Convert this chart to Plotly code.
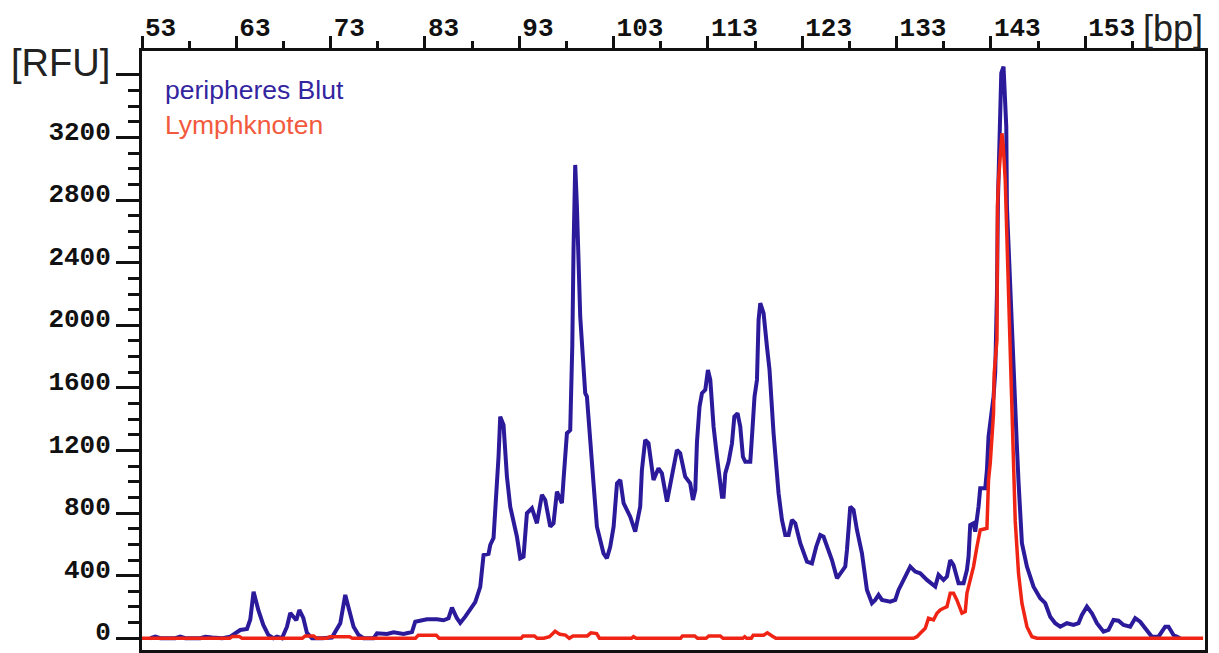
import plotly.graph_objects as go

# ---------------- data ----------------
blue_bp = [53.88, 54.41, 54.94, 56.53, 57.06, 57.59, 59.18, 59.71, 60.45, 61.51,
           62.36, 63.07, 63.42, 64.13, 64.48, 64.83, 65.33, 65.86, 66.39, 66.92,
           67.31, 67.84, 68.37, 68.72, 69.04, 69.36, 69.68, 70.10, 70.49, 71.02,
           72.08, 73.14, 73.49, 74.02, 74.55, 74.90, 75.43, 75.96, 76.49, 77.55,
           77.91, 78.97, 79.67, 80.73, 81.62, 81.97, 83.21, 84.27, 84.97, 85.50,
           85.86, 86.39, 86.74, 87.27, 87.80, 88.33, 88.86, 89.04, 89.21, 89.74,
           89.92, 90.27, 90.45, 90.80, 90.98, 91.33, 91.69, 92.04, 92.75, 93.10,
           93.45, 93.63, 93.81, 94.34, 94.87, 95.40, 95.75, 96.28, 96.63, 96.99,
           97.52, 97.69, 98.05, 98.40, 98.54, 98.62, 98.75, 98.93, 99.11, 99.46,
           99.99, 100.17, 100.87, 101.23, 101.93, 102.29, 102.64, 103.00, 103.36, 103.71,
           104.06, 104.41, 104.76, 105.29, 105.64, 105.82, 106.00, 106.35, 106.70, 107.23,
           107.76, 108.12, 108.66, 109.01, 109.36, 109.71, 110.06, 110.59, 111.12, 111.41,
           111.66, 111.84, 112.11, 112.37, 112.72, 113.00, 113.25, 113.60, 113.96, 114.49,
           114.66, 114.84, 115.19, 115.55, 115.80, 116.14, 116.43, 116.71, 116.96, 117.49,
           117.67, 117.94, 118.20, 118.37, 118.55, 118.90, 119.26, 119.53, 119.96, 120.49,
           120.85, 121.20, 121.55, 121.91, 122.26, 122.79, 123.50, 124.03, 124.48, 124.91,
           125.26, 125.62, 126.15, 126.68, 127.03, 127.56, 127.74, 128.09, 128.44, 128.80,
           129.33, 129.86, 130.39, 130.74, 131.09, 131.45, 132.33, 132.86, 133.21, 134.10,
           134.45, 134.98, 135.51, 136.22, 137.10, 137.45, 137.98, 138.34, 138.69, 139.04,
           139.57, 140.10, 140.46, 140.63, 140.81, 141.16, 141.34, 141.69, 141.87, 142.40,
           142.58, 142.75, 143.11, 143.28, 143.46, 143.64, 143.75, 143.99, 144.10, 144.34,
           144.52, 144.63, 144.70, 145.05, 145.34, 145.58, 145.76, 145.93, 146.11, 146.29,
           146.82, 147.52, 148.23, 148.76, 149.29, 149.82, 150.35, 151.06, 151.76, 152.29,
           152.65, 153.18, 153.71, 154.24, 154.94, 155.47, 156.00, 156.53, 157.06, 157.77,
           158.30, 158.83, 159.36, 160.07, 160.77, 161.48, 161.83, 162.36, 163.07]
blue_rfu = [0, 10, 0, 0, 10, 0, 0, 10, 5, 0,
            10, 42, 53, 60, 120, 298, 181, 85, 21, 0,
            10, 0, 74, 161, 140, 115, 181, 130, 34, 0,
            0, 5, 42, 96, 277, 202, 74, 21, 0, 0,
            32, 28, 38, 28, 40, 106, 121, 121, 115, 128,
            196, 128, 98, 138, 180, 231, 328, 426, 532, 540,
            596, 641, 801, 1160, 1416, 1363, 1033, 841, 649, 511,
            521, 649, 799, 831, 735, 916, 884, 713, 735, 937,
            863, 1012, 1310, 1330, 1650, 1870, 2481, 3025, 2758, 2055,
            1566, 1544, 990, 713, 543, 511, 585, 713, 990, 1012,
            863, 820, 777, 681, 799, 841, 1075, 1267, 1246, 1012,
            1086, 1054, 873, 990, 1086, 1203, 1182, 1033, 990, 884,
            948, 1256, 1480, 1566, 1588, 1715, 1651, 1352, 1160, 905,
            905, 1054, 1128, 1246, 1416, 1438, 1352, 1160, 1128, 1128,
            1288, 1544, 1651, 2034, 2141, 2077, 1863, 1715, 1310, 927,
            756, 660, 660, 756, 735, 607, 490, 479, 585, 660,
            649, 585, 500, 383, 415, 458, 564, 841, 820, 692,
            543, 309, 224, 245, 277, 245, 234, 245, 309, 415,
            458, 426, 415, 373, 330, 405, 373, 394, 500, 468,
            351, 351, 437, 521, 724, 735, 681, 841, 958, 958,
            1075, 1288, 1480, 1544, 1700, 2200, 2801, 3270, 3611, 3653,
            3334, 3270, 2758, 2200, 1906, 1480, 1224, 1000, 799, 607,
            458, 330, 256, 224, 138, 96, 74, 96, 85, 96,
            149, 202, 160, 96, 42, 53, 117, 112, 85, 74,
            128, 106, 64, 10, 10, 74, 74, 21, 0]

red_bp = [53.0, 62.3, 62.6, 63.3, 63.6, 70.0, 70.3, 71.2, 71.5, 72.6,
          72.9, 75.0, 75.3, 82.0, 82.3, 84.2, 84.5, 93.2, 93.4, 94.6,
          94.9, 95.6, 96.2, 96.8, 97.3, 97.9, 98.3, 98.7, 100.2, 100.6,
          101.2, 101.5, 104.9, 105.1, 105.4, 110.1, 110.3, 111.6, 111.9, 112.8,
          113.1, 114.3, 114.6, 116.7, 116.9, 117.1, 117.6, 117.8, 118.9, 119.3,
          119.8, 120.2, 134.80, 135.16, 135.51, 136.04, 136.39, 136.92, 137.28, 137.63,
          137.98, 138.34, 138.69, 139.04, 139.39, 139.93, 140.28, 140.46, 140.81, 141.16,
          141.52, 141.87, 142.58, 142.75, 142.93, 143.11, 143.28, 143.35, 143.64, 143.70,
          143.81, 144.17, 144.31, 144.52, 144.70, 144.97, 145.23, 145.40, 145.58, 145.93,
          146.29, 146.82, 147.35, 147.88, 165.5]
red_rfu = [0, 0, 12, 12, 0, 0, 15, 15, 0, 0,
           10, 10, 0, 0, 20, 20, 0, 0, 15, 15,
           0, 0, 10, 45, 25, 20, 0, 15, 15, 35,
           30, 0, 0, 10, 0, 0, 15, 15, 0, 0,
           15, 15, 0, 0, 10, 0, 0, 20, 20, 35,
           15, 0, 0, 10, 32, 64, 128, 117, 160, 181,
           192, 202, 288, 288, 245, 160, 170, 288, 373, 458,
           585, 692, 703, 1012, 1118, 1310, 1438, 1693, 1906, 2758,
           2929, 3227, 3150, 2929, 2545, 2119, 1500, 1200, 750, 415,
           224, 74, 10, 0, 0]

x_major = [53, 63, 73, 83, 93, 103, 113, 123, 133, 143, 153]
x_minor = [58, 68, 78, 88, 98, 108, 118, 128, 138, 148, 158]
y_major = [0, 400, 800, 1200, 1600, 2000, 2400, 2800, 3200, 3600]
y_major_text = ["0", "400", "800", "1200", "1600", "2000", "2400", "2800", "3200", ""]
y_minor = [v for v in range(100, 3700, 100) if v % 400 != 0]

BLUE = "#2b1b9b"
RED = "#f02414"

# ---------------- figure ----------------
fig = go.Figure()
fig.add_trace(go.Scatter(x=blue_bp, y=blue_rfu, mode="lines", name="peripheres Blut",
                         line=dict(color=BLUE, width=4), showlegend=False))
fig.add_trace(go.Scatter(x=red_bp, y=red_rfu, mode="lines", name="Lymphknoten",
                         line=dict(color=RED, width=3.5), showlegend=False))

tickfont = dict(family="Liberation Mono", size=26, color="#111111", weight="bold")

# page body has an 8px margin, so the figure is sized/placed to compensate
fig.update_layout(
    width=1211, height=645,
    margin=dict(l=134, r=14, t=43, b=3, pad=0),
    paper_bgcolor="white", plot_bgcolor="white",
    xaxis=dict(
        side="top", range=[53, 165.7], showgrid=False, zeroline=False, automargin=False,
        showline=True, linecolor="#111111", linewidth=3, mirror=True,
        tickmode="array", tickvals=x_major, ticktext=[str(v) for v in x_major],
        ticks="outside", ticklen=12, tickwidth=3, tickcolor="#111111",
        ticklabelposition="outside right", ticklabelstandoff=2, tickfont=tickfont,
        minor=dict(tickmode="array", tickvals=x_minor, ticks="outside",
                   ticklen=7, tickwidth=3, tickcolor="#111111", showgrid=False),
    ),
    yaxis=dict(
        range=[-75, 3753], showgrid=False, zeroline=False, automargin=False,
        showline=True, linecolor="#111111", linewidth=3, mirror=True,
        tickmode="array", tickvals=y_major, ticktext=y_major_text,
        ticks="outside", ticklen=23, tickwidth=3, tickcolor="#111111",
        ticklabelposition="outside", ticklabelstandoff=0, ticklabelshift=-7,
        ticklabeloverflow="allow", tickfont=tickfont,
        minor=dict(tickmode="array", tickvals=y_minor, ticks="outside",
                   ticklen=11, tickwidth=3, tickcolor="#111111", showgrid=False),
    ),
    annotations=[
        dict(text="[RFU]", xref="paper", yref="paper", x=-0.028, y=0.98,
             xanchor="right", yanchor="middle", showarrow=False,
             font=dict(family="Liberation Sans", size=38, color="#222222")),
        dict(text="[bp]", xref="paper", yref="paper", x=1.0, y=1.037,
             xanchor="right", yanchor="middle", showarrow=False,
             font=dict(family="Liberation Sans", size=36, color="#222222")),
        dict(text="peripheres Blut", xref="paper", yref="paper", x=0.0198, y=0.935,
             xanchor="left", yanchor="middle", showarrow=False,
             font=dict(family="Liberation Sans", size=26.5, color="#33259f")),
        dict(text="Lymphknoten", xref="paper", yref="paper", x=0.0198, y=0.8765,
             xanchor="left", yanchor="middle", showarrow=False,
             font=dict(family="Liberation Sans", size=26.5, color="#f25a3e")),
    ],
)

fig.write_html("out.html")
